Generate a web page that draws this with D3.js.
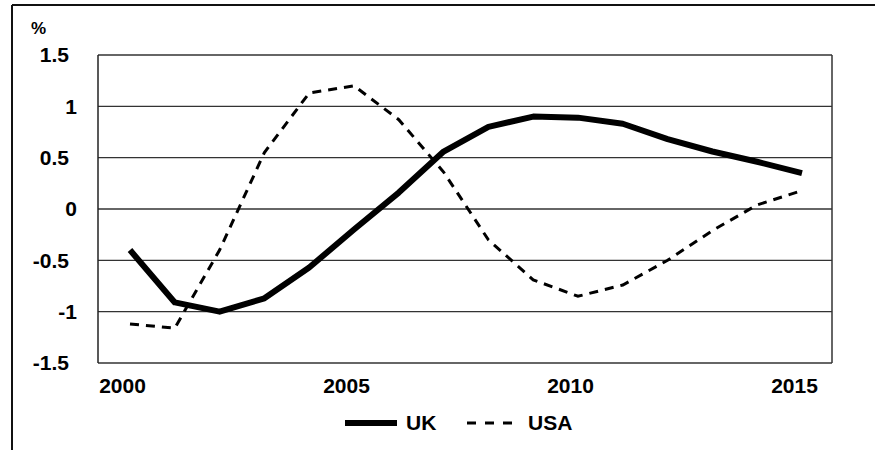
<!DOCTYPE html>
<html><head><meta charset="utf-8">
<script src="https://cdn.jsdelivr.net/npm/d3@7"></script>
<style>body{margin:0;background:#fff}text{font-family:"Liberation Sans",Arial,sans-serif;font-weight:bold;fill:#000}</style>
</head><body><svg id="c" width="875" height="450"></svg>
<script>
const years = [2000,2001,2002,2003,2004,2005,2006,2007,2008,2009,2010,2011,2012,2013,2014,2015];
const ukValues  = [-0.40,-0.91,-1.00,-0.87,-0.57,-0.20,0.16,0.56,0.80,0.90,0.89,0.83,0.68,0.56,0.46,0.35];
const usaValues = [-1.12,-1.16,-0.40,0.55,1.13,1.20,0.87,0.36,-0.30,-0.69,-0.85,-0.74,-0.50,-0.21,0.04,0.18];
const yTicks = [-1.5,-1,-0.5,0,0.5,1,1.5];
const xTickYears = [2000,2005,2010,2015];
const seriesNames = ["UK","USA"];

const svg = d3.select("#c");
const L=98,R=832,T=55,B=363;
const x = d3.scaleLinear().domain([2000,2015]).range([130,802]);
const y = d3.scaleLinear().domain([-1.5,1.5]).range([B,T]);

// outer frame (top and left only)
svg.append("line").attr("x1",12).attr("x2",875).attr("y1",5).attr("y2",5).attr("stroke","#111").attr("stroke-width",2);
svg.append("line").attr("x1",12).attr("x2",12).attr("y1",5).attr("y2",450).attr("stroke","#111").attr("stroke-width",2);

// gridlines
svg.append("g").selectAll("line").data(yTicks).join("line")
  .attr("x1",L).attr("x2",R).attr("y1",d=>y(d)).attr("y2",d=>y(d))
  .attr("stroke","#333").attr("stroke-width",1.3);
svg.append("line").attr("x1",L).attr("x2",L).attr("y1",T).attr("y2",B).attr("stroke","#222").attr("stroke-width",1.5);
svg.append("line").attr("x1",R).attr("x2",R).attr("y1",T).attr("y2",B).attr("stroke","#333").attr("stroke-width",1.5);

const FS = 21;
// y axis labels
const yAxis = d3.axisLeft(y).tickValues(yTicks).tickSize(0).tickPadding(0).tickFormat(d=>String(d));
const gy = svg.append("g").attr("transform","translate(69,0)").attr("font-size",FS).call(yAxis);
gy.select(".domain").remove();
gy.selectAll("text").attr("font-size",FS).attr("font-family","Liberation Sans, Arial, sans-serif").attr("font-weight","bold").attr("fill","#000")
  .attr("dx",d=>Number.isInteger(d)?8:0);

// x axis labels
const xAxis = d3.axisBottom(x).tickValues(xTickYears).tickSize(0).tickPadding(0).tickFormat(d3.format("d"));
const gx = svg.append("g").attr("transform","translate(-8,378)").attr("font-size",FS).call(xAxis);
gx.select(".domain").remove();
gx.selectAll("text").attr("font-size",FS).attr("font-family","Liberation Sans, Arial, sans-serif").attr("font-weight","bold").attr("fill","#000");

// % label
svg.append("text").attr("x",31).attr("y",34).attr("font-size",17).text("%");

const line = d3.line().x((d,i)=>x(years[i])).y(d=>y(d));
svg.append("path").attr("d",line(usaValues)).attr("fill","none").attr("stroke","#000").attr("stroke-width",3).attr("stroke-dasharray","9,7");
svg.append("path").attr("d",line(ukValues)).attr("fill","none").attr("stroke","#000").attr("stroke-width",6).attr("stroke-linejoin","round");

// legend
const lg = svg.append("g");
lg.append("line").attr("x1",345).attr("x2",397).attr("y1",423).attr("y2",423).attr("stroke","#000").attr("stroke-width",6);
lg.append("text").attr("x",406).attr("y",430).attr("font-size",FS).text(seriesNames[0]);
lg.append("line").attr("x1",467).attr("x2",513).attr("y1",423).attr("y2",423).attr("stroke","#000").attr("stroke-width",3).attr("stroke-dasharray","9,9");
lg.append("text").attr("x",528).attr("y",430).attr("font-size",FS).text(seriesNames[1]);
</script></body></html>
